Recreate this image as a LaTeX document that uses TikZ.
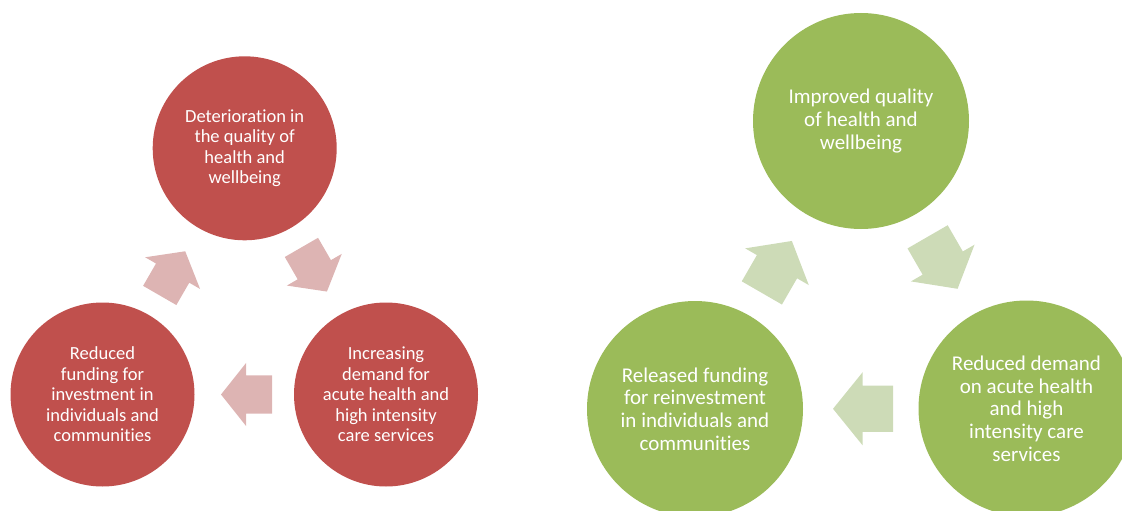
\documentclass[tikz,border=0pt]{standalone}
\usepackage{fontspec}
\setmainfont[RawFeature={-liga;-clig;-dlig;-calt}]{Carlito}
\usetikzlibrary{positioning,shapes.arrows,calc}

\definecolor{badred}{RGB}{192,80,77}
\definecolor{badarrow}{RGB}{221,180,179}
\definecolor{goodgreen}{RGB}{155,187,89}
\definecolor{goodarrow}{RGB}{205,219,183}

\begin{document}
\begin{tikzpicture}[
  x=1pt, y=1pt,
  redball/.style={circle, fill=badred, minimum size=184pt, inner sep=0pt,
                  align=center, text=white, font=\fontsize{18.5}{20.5}\selectfont},
  greenball/.style={circle, fill=goodgreen, minimum size=216pt, inner sep=0pt,
                  align=center, text=white, font=\fontsize{21}{22.7}\selectfont},
  redarrow/.style={single arrow, fill=badarrow, inner xsep=0pt, inner ysep=19pt,
                   minimum height=51pt, minimum width=63pt, anchor=tip,
                   single arrow head extend=12.5pt, single arrow tip angle=103},
  greenarrow/.style={single arrow, fill=goodarrow, inner xsep=0pt, inner ysep=23pt,
                   minimum height=60pt, minimum width=73pt, anchor=tip,
                   single arrow head extend=13.5pt, single arrow tip angle=102}
]
\clip (0,0) rectangle (1122,-511);

% ---------- vicious circle ----------
\node[redball] (worse) at (244.7,-148.3) {Deterioration in\\ the quality of\\ health and\\ wellbeing};
\node[redball] (demand) at (386,-394.5) {Increasing\\ demand for\\ acute health and\\ high intensity\\ care services};
\node[redball] (funding) at (102.5,-394.5) {Reduced\\ funding for\\ investment in\\ individuals and\\ communities};

% block arrows: tip placed just past the midpoint of each pair
\node[redarrow, rotate=-60] (worse2demand)   at ($(worse)!0.5!(demand)!23.5pt!(demand)$)    {};
\node[redarrow, rotate=180] (demand2funding) at ($(demand)!0.5!(funding)!23.5pt!(funding)$) {};
\node[redarrow, rotate=60]  (funding2worse)  at ($(funding)!0.5!(worse)!23.5pt!(worse)$)    {};

% ---------- virtuous circle ----------
\node[greenball] (better) at (861,-121) {Improved quality\\ of health and\\ wellbeing};
\node[greenball] (lessdemand) at (1026.5,-408.5) {Reduced demand\\ on acute health\\ and high\\ intensity care\\ services};
\node[greenball] (released) at (695,-409) {Released funding\\ for reinvestment\\ in individuals and\\ communities};

\node[greenarrow, rotate=-60] (better2less)     at ($(better)!0.5!(lessdemand)!28pt!(lessdemand)$)   {};
\node[greenarrow, rotate=180] (less2released)   at ($(lessdemand)!0.5!(released)!28pt!(released)$)  {};
\node[greenarrow, rotate=60]  (released2better) at ($(released)!0.5!(better)!28pt!(better)$)         {};

\end{tikzpicture}
\end{document}
